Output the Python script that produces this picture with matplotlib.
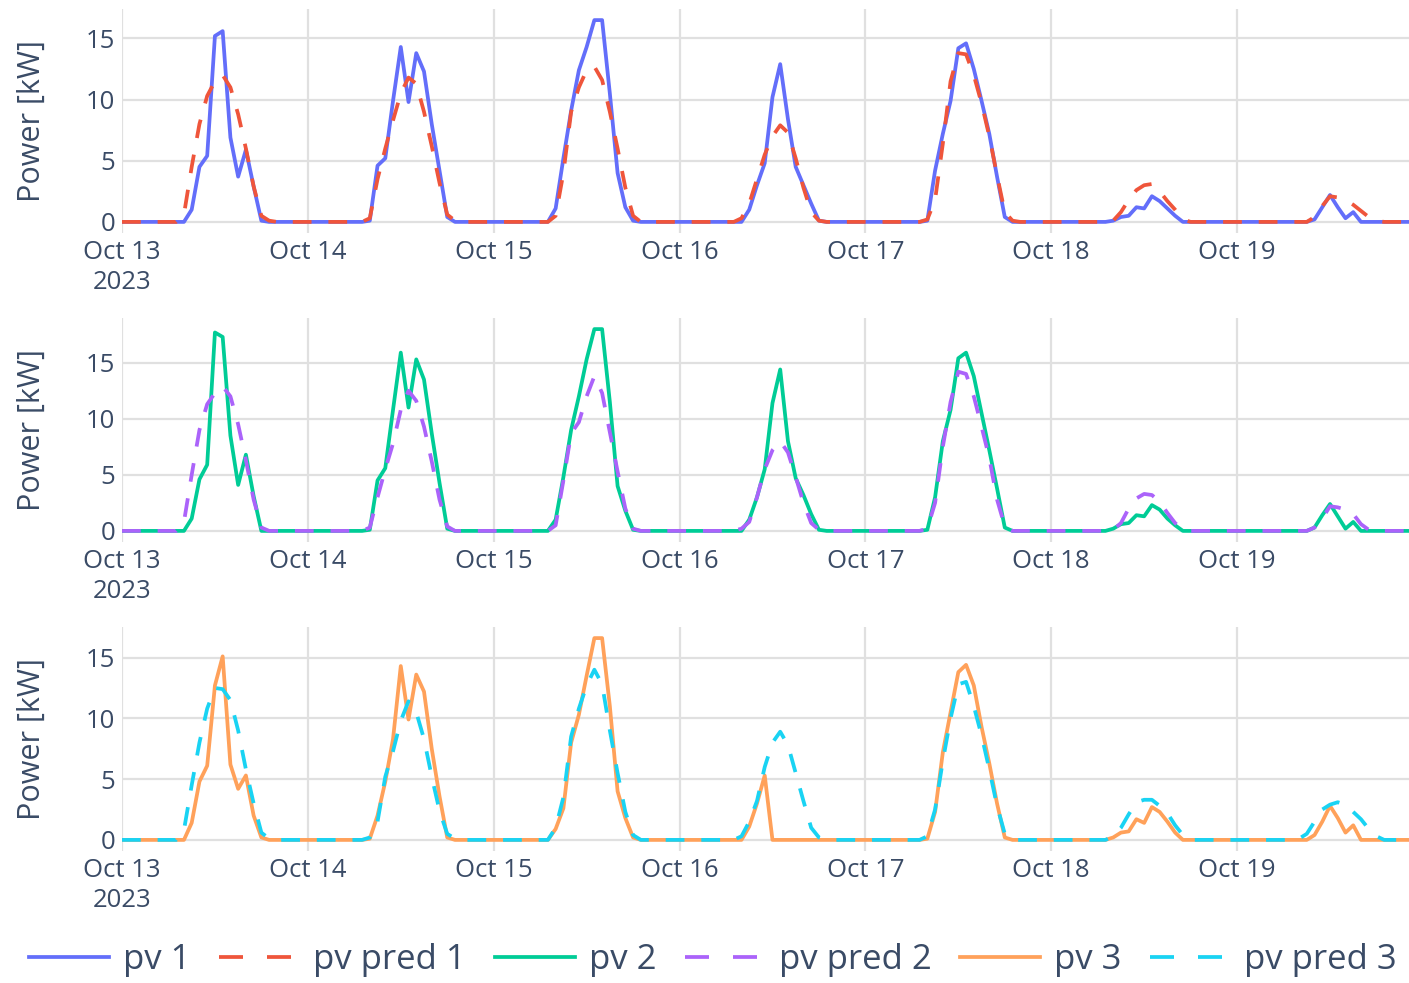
import matplotlib
matplotlib.use('Agg')
import matplotlib.pyplot as plt
from matplotlib.lines import Line2D
import numpy as np
import pandas as pd

plt.rcParams['font.family'] = ['Open Sans', 'DejaVu Sans']

# hourly values for 07:00 .. 19:00 of each day (Oct 13 .. Oct 19), night hours are 0
day_hours = list(range(7, 20))
days = pd.date_range('2023-10-13', periods=7, freq='D')

pv1 = [
    [0, 0, 1.0, 4.5, 5.4, 15.2, 15.6, 6.9, 3.7, 5.9, 2.9, 0.1, 0],
    [0, 0.1, 4.6, 5.2, 9.9, 14.3, 9.8, 13.8, 12.3, 8.0, 4.2, 0.4, 0],
    [0, 1.1, 5.2, 9.1, 12.4, 14.3, 16.5, 16.5, 10.5, 4.0, 1.2, 0.1, 0],
    [0, 0, 1.0, 3.0, 4.8, 10.2, 12.9, 8.4, 4.5, 3.0, 1.5, 0.1, 0],
    [0, 0.1, 4.2, 7.2, 9.9, 14.2, 14.6, 12.5, 9.9, 7.2, 3.7, 0.4, 0],
    [0, 0.1, 0.4, 0.5, 1.2, 1.1, 2.1, 1.7, 1.1, 0.5, 0, 0, 0],
    [0, 0, 0, 0.2, 1.2, 2.2, 1.2, 0.3, 0.8, 0, 0, 0, 0],
]
pv_pred1 = [
    [0, 0.6, 4.5, 8.0, 10.3, 11.5, 12.0, 11.0, 8.8, 6.0, 2.9, 0.5, 0.1],
    [0, 0.3, 3.5, 6.0, 8.3, 10.5, 11.8, 11.3, 9.0, 6.2, 3.2, 0.6, 0.1],
    [0, 0.5, 4.0, 9.0, 11.0, 12.4, 12.7, 11.6, 9.0, 6.0, 2.8, 0.5, 0],
    [0, 0.3, 1.5, 3.5, 5.5, 7.0, 7.9, 7.3, 5.2, 2.8, 0.8, 0.1, 0],
    [0, 0.2, 1.8, 6.4, 11.5, 13.8, 13.7, 12.0, 9.7, 7.0, 3.8, 0.8, 0.1],
    [0, 0.1, 0.8, 1.8, 2.6, 3.0, 3.1, 2.5, 1.7, 1.0, 0.2, 0, 0],
    [0, 0, 0, 0.4, 1.3, 2.1, 2.0, 1.8, 1.4, 0.9, 0.4, 0.1, 0],
]
pv2 = [
    [0, 0, 1.1, 4.6, 5.9, 17.7, 17.3, 8.5, 4.1, 6.8, 3.1, 0, 0],
    [0, 0.1, 4.5, 5.6, 10.8, 15.9, 11.0, 15.3, 13.5, 8.7, 4.3, 0.2, 0],
    [0, 1.0, 4.8, 9.0, 12.0, 15.3, 18.0, 18.0, 11.5, 4.0, 1.8, 0.1, 0],
    [0, 0, 1.0, 3.0, 5.5, 11.4, 14.4, 8.0, 4.7, 3.2, 1.5, 0.1, 0],
    [0, 0.1, 3.0, 8.0, 10.8, 15.4, 15.9, 13.8, 10.5, 7.2, 3.8, 0.3, 0],
    [0, 0.2, 0.6, 0.7, 1.4, 1.3, 2.3, 1.9, 1.1, 0.5, 0, 0, 0],
    [0, 0, 0, 0.3, 1.4, 2.4, 1.3, 0.2, 0.8, 0, 0, 0, 0],
]
pv_pred2 = [
    [0, 0.8, 5.0, 9.0, 11.3, 12.3, 12.9, 12.0, 9.5, 6.3, 2.8, 0.3, 0],
    [0, 0.3, 3.0, 5.5, 7.8, 10.8, 12.5, 11.6, 9.3, 6.2, 2.8, 0.4, 0],
    [0, 0.5, 4.5, 8.7, 9.7, 12.0, 13.8, 12.3, 8.8, 5.3, 2.0, 0.2, 0],
    [0, 0.2, 0.8, 3.0, 5.5, 7.2, 8.0, 7.0, 4.8, 2.5, 0.7, 0.1, 0],
    [0, 0.2, 2.5, 7.5, 11.5, 14.2, 14.0, 12.0, 9.3, 6.5, 2.8, 0.4, 0],
    [0, 0.1, 0.7, 2.0, 2.9, 3.3, 3.2, 2.6, 1.6, 0.7, 0.1, 0, 0],
    [0, 0, 0, 0.3, 1.1, 2.2, 2.1, 1.9, 1.5, 0.6, 0.1, 0, 0],
]
pv3 = [
    [0, 0, 1.4, 4.8, 6.1, 12.7, 15.1, 6.2, 4.2, 5.3, 2.0, 0.2, 0],
    [0, 0.1, 2.0, 4.8, 8.3, 14.3, 9.9, 13.6, 12.2, 7.5, 3.6, 0.2, 0],
    [0, 0.9, 2.6, 8.0, 10.3, 13.5, 16.6, 16.6, 11.0, 4.0, 1.8, 0.2, 0],
    [0, 0, 1.1, 3.0, 5.3, 0, 0, 0, 0, 0, 0, 0, 0],
    [0, 0.1, 2.3, 7.2, 10.5, 13.8, 14.4, 12.7, 9.3, 6.3, 3.0, 0.2, 0],
    [0, 0.2, 0.6, 0.7, 1.7, 1.4, 2.7, 2.3, 1.5, 0.6, 0, 0, 0],
    [0, 0, 0, 0.4, 1.5, 2.8, 1.8, 0.6, 1.2, 0, 0, 0, 0],
]
pv_pred3 = [
    [0, 0.8, 4.5, 8.0, 10.8, 12.5, 12.4, 11.5, 9.0, 5.8, 3.0, 0.6, 0.1],
    [0, 0.2, 1.5, 5.2, 7.3, 9.8, 11.4, 10.5, 8.3, 5.2, 2.4, 0.5, 0.1],
    [0, 1.0, 3.5, 8.5, 10.8, 12.7, 14.0, 12.8, 9.0, 5.5, 2.3, 0.4, 0],
    [0, 0.3, 1.5, 3.2, 6.0, 8.0, 8.9, 7.8, 5.5, 3.2, 1.0, 0.2, 0],
    [0, 0.3, 2.5, 6.5, 10.0, 12.8, 13.0, 11.0, 8.6, 5.8, 2.8, 0.5, 0],
    [0, 0.3, 1.0, 2.1, 3.1, 3.3, 3.3, 2.8, 2.2, 1.2, 0.4, 0, 0],
    [0, 0.1, 0.5, 1.5, 2.5, 2.9, 3.1, 2.9, 2.3, 1.7, 0.9, 0.3, 0],
]

tick_labels = ['Oct 13\n2023', 'Oct 14', 'Oct 15', 'Oct 16', 'Oct 17', 'Oct 18', 'Oct 19']
y_ticks = [0, 5, 10, 15]
names = ['pv 1', 'pv pred 1', 'pv 2', 'pv pred 2', 'pv 3', 'pv pred 3']
colors = ['#636efa', '#EF553B', '#00cc96', '#ab63fa', '#FFA15A', '#19d3f3']

times = pd.date_range('2023-10-13', periods=7 * 24, freq='h')


def hourly(daily):
    vals = np.zeros(len(times))
    for d, row in enumerate(daily):
        for h, v in zip(day_hours, row):
            vals[d * 24 + h] = v
    return vals


panels = [(pv1, pv_pred1), (pv2, pv_pred2), (pv3, pv_pred3)]

W, H = 1409, 983
fig = plt.figure(figsize=(W / 100, H / 100), dpi=100)
text_col = '#3a4b66'
x_end = pd.Timestamp('2023-10-19 22:12')
lw = 2.7

for i, (act, pred) in enumerate(panels):
    top = 9 + 309 * i
    ax = fig.add_axes([122 / W, 1 - (top + 224) / H, (W - 122) / W, 224 / H])
    a = hourly(act)
    p = hourly(pred)
    ax.plot(times, a, color=colors[2 * i], lw=lw, solid_joinstyle='round')
    ax.plot(times, p, color=colors[2 * i + 1], lw=lw, dashes=(5, 4.5))
    ymax = max(a.max(), p.max())
    ax.set_ylim(-0.055 * ymax, 1.055 * ymax)
    ax.set_xlim(times[0], x_end)
    ax.set_xticks(days)
    ax.set_xticklabels(tick_labels, linespacing=1.25)
    ax.set_yticks(y_ticks)
    ax.grid(True, color='#e0e0e0', lw=1.6)
    ax.set_axisbelow(True)
    for s in ax.spines.values():
        s.set_visible(False)
    ax.tick_params(length=0, labelsize=18.5, labelcolor=text_col, pad=5)
    ax.set_ylabel('Power [kW]', fontsize=22, color=text_col)
    ax.yaxis.set_label_coords(-(122 - 47) / (W - 122), 0.5)

# legend samples: solid line, or two dashes for the predictions
handles = []
for k, c in enumerate(colors):
    if k % 2 == 0:
        handles.append(Line2D([], [], color=c, lw=lw))
    else:
        handles.append(Line2D([], [], color=c, lw=lw, dashes=(6.4, 6.4)))

fig.legend(handles, names, loc='center', bbox_to_anchor=(0.506, 1 - 960 / H), ncol=6,
           frameon=False, fontsize=25, handlelength=2.3, handletextpad=0.4,
           columnspacing=0.83, labelcolor=text_col)

fig.savefig('out.png', dpi=100, facecolor='white')
